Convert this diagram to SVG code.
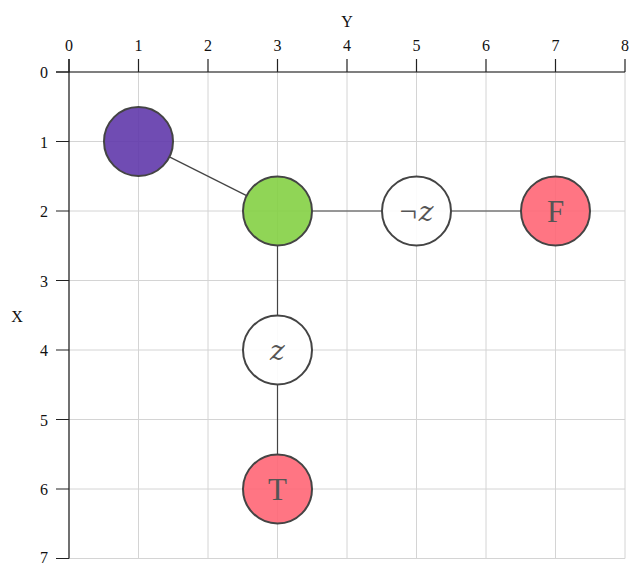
<svg xmlns="http://www.w3.org/2000/svg" width="629" height="564" viewBox="0 0 629 564">
  <style>
    .grid { stroke: #d4d4d4; stroke-width: 1; }
    .tick { stroke: #222; stroke-width: 1.2; }
    .lbl { font-family: "Liberation Serif", "DejaVu Serif", serif; font-size: 16px; fill: #111; }
    .node circle { stroke: #444; stroke-width: 2; fill-opacity: 0.9; }
    .node text { font-family: "Liberation Serif", "DejaVu Serif", serif; font-size: 31px; fill: #555; text-anchor: middle; dominant-baseline: central; }
    .node .var { font-family: "DejaVu Serif", serif; font-style: italic; font-size: 28px; }
    .edge { stroke: #444; stroke-width: 1.2; fill: none; }
  </style>

  <rect width="629" height="564" fill="#fff"/>

  <!-- grid -->
  <g id="grid">
    <path class="grid" d="M138.5,72V558.5 M208,72V558.5 M277.5,72V558.5 M347,72V558.5 M416.5,72V558.5 M486,72V558.5 M555.5,72V558.5 M625,72V558.5"/>
    <path class="grid" d="M69,141.5H625 M69,211H625 M69,280.5H625 M69,350H625 M69,419.5H625 M69,489H625 M69,558.5H625"/>
  </g>

  <!-- axes -->
  <g id="axes">
    <line x1="56" y1="72" x2="625" y2="72" stroke="#555" stroke-width="1.4"/>
    <line x1="69" y1="59" x2="69" y2="558.5" stroke="#111" stroke-width="1.2"/>
    <path class="tick" d="M69,59V72 M138.5,59V72 M208,59V72 M277.5,59V72 M347,59V72 M416.5,59V72 M486,59V72 M555.5,59V72 M625,59V72"/>
    <path class="tick" d="M56,72H69 M56,141.5H69 M56,211H69 M56,280.5H69 M56,350H69 M56,419.5H69 M56,489H69 M56,558.5H69"/>
    <g class="lbl" text-anchor="middle">
      <text x="69" y="51">0</text>
      <text x="138.5" y="51">1</text>
      <text x="208" y="51">2</text>
      <text x="277.5" y="51">3</text>
      <text x="347" y="51">4</text>
      <text x="416.5" y="51">5</text>
      <text x="486" y="51">6</text>
      <text x="555.5" y="51">7</text>
      <text x="625" y="51">8</text>
      <text x="347" y="27">Y</text>
    </g>
    <g class="lbl" text-anchor="end">
      <text x="48" y="78">0</text>
      <text x="48" y="147.5">1</text>
      <text x="48" y="217">2</text>
      <text x="48" y="286.5">3</text>
      <text x="48" y="356">4</text>
      <text x="48" y="425.5">5</text>
      <text x="48" y="495">6</text>
      <text x="48" y="563">7</text>
    </g>
    <text class="lbl" x="17" y="322" text-anchor="middle">X</text>
  </g>

  <!-- connectors, clipped to the circle rims -->
  <g id="edges">
    <line class="edge" x1="169.4" y1="156.9" x2="246.6" y2="195.6" stroke="#222"/>
    <line class="edge" x1="312" y1="211" x2="382" y2="211"/>
    <line class="edge" x1="451" y1="211" x2="521" y2="211"/>
    <line class="edge" x1="277.5" y1="245.5" x2="277.5" y2="315.5"/>
    <line class="edge" x1="277.5" y1="384.5" x2="277.5" y2="454.5"/>
  </g>

  <!-- nodes -->
  <g id="n-purple" class="node"><circle cx="138.5" cy="141.5" r="34.5" fill="#6039ab"/></g>
  <g id="n-green" class="node"><circle cx="277.5" cy="211" r="34.5" fill="#84d044"/></g>
  <g id="n-notz" class="node"><circle cx="416.5" cy="211" r="34.5" fill="#fff"/><text x="416.5" y="211">¬<tspan class="var" dx="2">z</tspan></text></g>
  <g id="n-F" class="node"><circle cx="555.5" cy="211" r="34.5" fill="#ff6675"/><text x="555.5" y="211">F</text></g>
  <g id="n-z" class="node"><circle cx="277.5" cy="350" r="34.5" fill="#fff"/><text class="var" x="277.5" y="350">z</text></g>
  <g id="n-T" class="node"><circle cx="277.5" cy="489" r="34.5" fill="#ff6675"/><text x="277.5" y="489">T</text></g>
</svg>
